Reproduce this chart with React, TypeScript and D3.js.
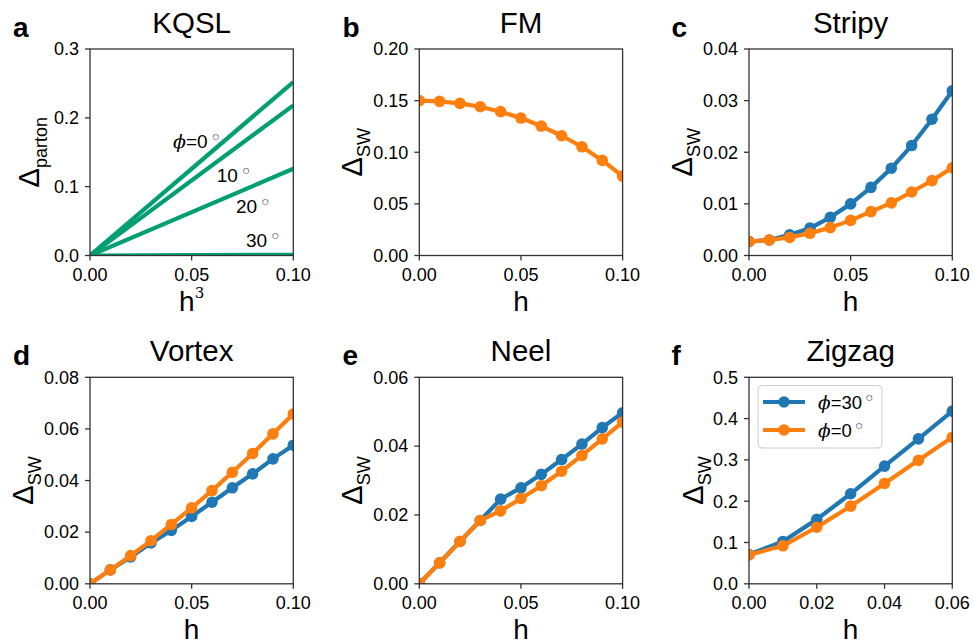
import React from "react";
import * as d3 from "d3";

// ---------- data ----------
const hGrid = [0, 0.01, 0.02, 0.03, 0.04, 0.05, 0.06, 0.07, 0.08, 0.09, 0.1];
const hGridZigzag = [0, 0.01, 0.02, 0.03, 0.04, 0.05, 0.06];

const kqslAngles = ["0", "10", "20", "30"];
const kqslX = [0, 0.1];
const kqslEnd = [0.252, 0.218, 0.126, 0.001];

const fmOrange = [0.15, 0.1493, 0.1473, 0.1441, 0.1393, 0.1331, 0.1254, 0.116, 0.1053, 0.0921, 0.0769];

const stripyBlue = [0.0027, 0.003, 0.004, 0.0053, 0.0074, 0.01, 0.0132, 0.0169, 0.0213, 0.0264, 0.0319];
const stripyOrange = [0.0027, 0.003, 0.0035, 0.0043, 0.0054, 0.0068, 0.0085, 0.0102, 0.0123, 0.0145, 0.017];

const vortexBlue = [0, 0.0054, 0.0104, 0.0158, 0.0207, 0.0261, 0.0316, 0.0372, 0.0426, 0.0484, 0.0537];
const vortexOrange = [0, 0.0054, 0.0109, 0.0167, 0.023, 0.0294, 0.0361, 0.0432, 0.0505, 0.0581, 0.0658];

const neelBlue = [0, 0.0061, 0.0123, 0.0184, 0.0246, 0.0279, 0.0318, 0.0361, 0.0406, 0.0454, 0.0497];
const neelOrange = [0, 0.0061, 0.0123, 0.0184, 0.0212, 0.0248, 0.0285, 0.0327, 0.0373, 0.0421, 0.047];

const zigzagBlue = [0.071, 0.1026, 0.156, 0.218, 0.285, 0.351, 0.418];
const zigzagOrange = [0.07, 0.092, 0.137, 0.188, 0.243, 0.299, 0.355];

const xTicksH = [0, 0.05, 0.1];
const xTicksZigzag = [0, 0.02, 0.04, 0.06];
const yTicksA = [0, 0.1, 0.2, 0.3];
const yTicksB = [0, 0.05, 0.1, 0.15, 0.2];
const yTicksC = [0, 0.01, 0.02, 0.03, 0.04];
const yTicksD = [0, 0.02, 0.04, 0.06, 0.08];
const yTicksE = [0, 0.02, 0.04, 0.06];
const yTicksF = [0, 0.1, 0.2, 0.3, 0.4, 0.5];

const legendLabels = ["30", "0"];

// ---------- style ----------
const BLUE = "#1f77b4";
const ORANGE = "#ff7f0e";
const GREEN = "#009e73";
const SANS = "'Liberation Sans', Arial, Helvetica, sans-serif";
const SERIF = "'DejaVu Serif', 'Liberation Serif', serif";

const colLeft = [90, 419.3, 749];
const rowTop = [49, 377.3];
const AW = 203.3;
const AH = 206.5;

type Series = { x: number[]; y: number[]; color: string; markers: boolean };

type PanelCfg = {
  id: string;
  letter: string;
  title: string;
  col: number;
  row: number;
  xDomain: [number, number];
  yDomain: [number, number];
  xTicks: number[];
  yTicks: number[];
  xFmt: string;
  yFmt: string;
  sub: string;
  xSup: boolean;
  yLabelOff: number;
  series: Series[];
};

const panels: PanelCfg[] = [
  {
    id: "a", letter: "a", title: "KQSL", col: 0, row: 0,
    xDomain: [0, 0.1], yDomain: [0, 0.3], xTicks: xTicksH, yTicks: yTicksA,
    xFmt: ".2f", yFmt: ".1f", sub: "parton", xSup: true, yLabelOff: 51,
    series: kqslEnd.map((v) => ({ x: kqslX, y: [0, v], color: GREEN, markers: false })),
  },
  {
    id: "b", letter: "b", title: "FM", col: 1, row: 0,
    xDomain: [0, 0.1], yDomain: [0, 0.2], xTicks: xTicksH, yTicks: yTicksB,
    xFmt: ".2f", yFmt: ".2f", sub: "SW", xSup: false, yLabelOff: 57.5,
    series: [{ x: hGrid, y: fmOrange, color: ORANGE, markers: true }],
  },
  {
    id: "c", letter: "c", title: "Stripy", col: 2, row: 0,
    xDomain: [0, 0.1], yDomain: [0, 0.04], xTicks: xTicksH, yTicks: yTicksC,
    xFmt: ".2f", yFmt: ".2f", sub: "SW", xSup: false, yLabelOff: 57.5,
    series: [
      { x: hGrid, y: stripyBlue, color: BLUE, markers: true },
      { x: hGrid, y: stripyOrange, color: ORANGE, markers: true },
    ],
  },
  {
    id: "d", letter: "d", title: "Vortex", col: 0, row: 1,
    xDomain: [0, 0.1], yDomain: [0, 0.08], xTicks: xTicksH, yTicks: yTicksD,
    xFmt: ".2f", yFmt: ".2f", sub: "SW", xSup: false, yLabelOff: 57,
    series: [
      { x: hGrid, y: vortexBlue, color: BLUE, markers: true },
      { x: hGrid, y: vortexOrange, color: ORANGE, markers: true },
    ],
  },
  {
    id: "e", letter: "e", title: "Neel", col: 1, row: 1,
    xDomain: [0, 0.1], yDomain: [0, 0.06], xTicks: xTicksH, yTicks: yTicksE,
    xFmt: ".2f", yFmt: ".2f", sub: "SW", xSup: false, yLabelOff: 57.5,
    series: [
      { x: hGrid, y: neelBlue, color: BLUE, markers: true },
      { x: hGrid, y: neelOrange, color: ORANGE, markers: true },
    ],
  },
  {
    id: "f", letter: "f", title: "Zigzag", col: 2, row: 1,
    xDomain: [0, 0.06], yDomain: [0, 0.5], xTicks: xTicksZigzag, yTicks: yTicksF,
    xFmt: ".2f", yFmt: ".1f", sub: "SW", xSup: false, yLabelOff: 46,
    series: [
      { x: hGridZigzag, y: zigzagBlue, color: BLUE, markers: true },
      { x: hGridZigzag, y: zigzagOrange, color: ORANGE, markers: true },
    ],
  },
];

const letterX = [13, 342.5, 671.5];

function Panel({ p }: { p: PanelCfg }) {
  const left = colLeft[p.col];
  const top = rowTop[p.row];
  const x = d3.scaleLinear().domain(p.xDomain).range([left, left + AW]);
  const y = d3.scaleLinear().domain(p.yDomain).range([top + AH, top]);
  const xf = d3.format(p.xFmt);
  const yf = d3.format(p.yFmt);
  const clipId = `clip-${p.id}`;
  const cx = left + AW / 2;
  const cy = top + AH / 2;

  return (
    <g>
      <defs>
        <clipPath id={clipId}>
          <rect x={left} y={top} width={AW} height={AH} />
        </clipPath>
      </defs>
      <g clipPath={`url(#${clipId})`}>
        {p.series.map((s, i) => {
          const pts: [number, number][] = s.x.map((xv, j) => [x(xv), y(s.y[j])]);
          const line = d3.line();
          return (
            <g key={i}>
              <path d={line(pts) || ""} fill="none" stroke={s.color} strokeWidth={4.2} strokeLinejoin="round" />
              {s.markers &&
                pts.map((pt, j) => <circle key={j} cx={pt[0]} cy={pt[1]} r={5.8} fill={s.color} />)}
            </g>
          );
        })}
      </g>
      <rect x={left} y={top} width={AW} height={AH} fill="none" stroke="#333" strokeWidth={1.3} />
      {p.yTicks.map((t) => (
        <g key={`y${t}`}>
          <line x1={left - 5} x2={left} y1={y(t)} y2={y(t)} stroke="#333" strokeWidth={1.3} />
          <text x={left - 11} y={y(t)} dy="0.35em" textAnchor="end" fontSize={18} fontFamily={SANS} fill="#000">
            {yf(t)}
          </text>
        </g>
      ))}
      {p.xTicks.map((t) => (
        <g key={`x${t}`}>
          <line x1={x(t)} x2={x(t)} y1={top + AH} y2={top + AH + 5} stroke="#333" strokeWidth={1.3} />
          <text x={x(t)} y={top + AH + 25} textAnchor="middle" fontSize={18} fontFamily={SANS} fill="#000">
            {xf(t)}
          </text>
        </g>
      ))}
      <text x={cx} y={top + AH + 55} textAnchor="middle" fontSize={28} fontFamily={SANS} fill="#000">
        h
        {p.xSup && (
          <tspan fontFamily={SERIF} fontSize={15} dy={-13}>
            3
          </tspan>
        )}
      </text>
      <text
        transform={`translate(${left - p.yLabelOff},${cy}) rotate(-90)`}
        textAnchor="middle"
        fontFamily={SANS}
        fill="#000"
      >
        <tspan fontSize={29}>Δ</tspan>
        <tspan fontSize={18} dy={8}>
          {p.sub}
        </tspan>
      </text>
      <text x={cx} y={top - 16} textAnchor="middle" fontSize={29.5} fontFamily={SANS} fill="#000">
        {p.title}
      </text>
      <text x={letterX[p.col]} y={top - 12.5} fontSize={28} fontWeight="bold" fontFamily={SANS} fill="#000">
        {p.letter}
      </text>
    </g>
  );
}

function Deg({ dx = 5 }: { dx?: number }) {
  return (
    <tspan dx={dx} dy={-9} fontSize={7.5} fontFamily="'DejaVu Sans', sans-serif">
      ○
    </tspan>
  );
}

export default function App() {
  const left = colLeft[0];
  const top = rowTop[0];
  const xa = d3.scaleLinear().domain([0, 0.1]).range([left, left + AW]);
  const ya = d3.scaleLinear().domain([0, 0.3]).range([top + AH, top]);
  const annot: { x: number; y: number; phi: boolean }[] = [
    { x: 0.0408, y: 0.1557, phi: true },
    { x: 0.0623, y: 0.1072, phi: false },
    { x: 0.0718, y: 0.0622, phi: false },
    { x: 0.0767, y: 0.0119, phi: false },
  ];

  const lgX = 758;
  const lgY = 385.5;
  const legendColors = [BLUE, ORANGE];

  return (
    <svg
      width={973}
      height={641}
      viewBox="0 0 973 641"
      style={{ position: "absolute", left: 0, top: 0, background: "#fff" }}
    >
      <rect x={0} y={0} width={973} height={641} fill="#fff" />
      {panels.map((p) => (
        <Panel key={p.id} p={p} />
      ))}
      {annot.map((a, i) => (
        <text key={i} x={xa(a.x)} y={ya(a.y)} fontSize={19} fontFamily={SANS} fill="#000">
          {a.phi && (
            <tspan fontFamily={SERIF} fontStyle="italic">
              ϕ
            </tspan>
          )}
          {a.phi ? "=" : ""}
          {kqslAngles[i]}
          <Deg />
        </text>
      ))}
      <g>
        <rect x={lgX} y={lgY} width={124} height={62.5} rx={4} fill="#fff" fillOpacity={0.8} stroke="#ccc" strokeWidth={1} />
        {legendLabels.map((lab, i) => {
          const yy = lgY + 16.5 + i * 28;
          return (
            <g key={lab}>
              <line x1={lgX + 5} x2={lgX + 47} y1={yy} y2={yy} stroke={legendColors[i]} strokeWidth={4.2} />
              <circle cx={lgX + 26} cy={yy} r={5.8} fill={legendColors[i]} />
              <text x={lgX + 60} y={yy + 6.5} fontSize={18.5} fontFamily={SANS} fill="#000">
                <tspan fontFamily={SERIF} fontStyle="italic">
                  ϕ
                </tspan>
                ={lab}
                <Deg dx={4} />
              </text>
            </g>
          );
        })}
      </g>
    </svg>
  );
}
